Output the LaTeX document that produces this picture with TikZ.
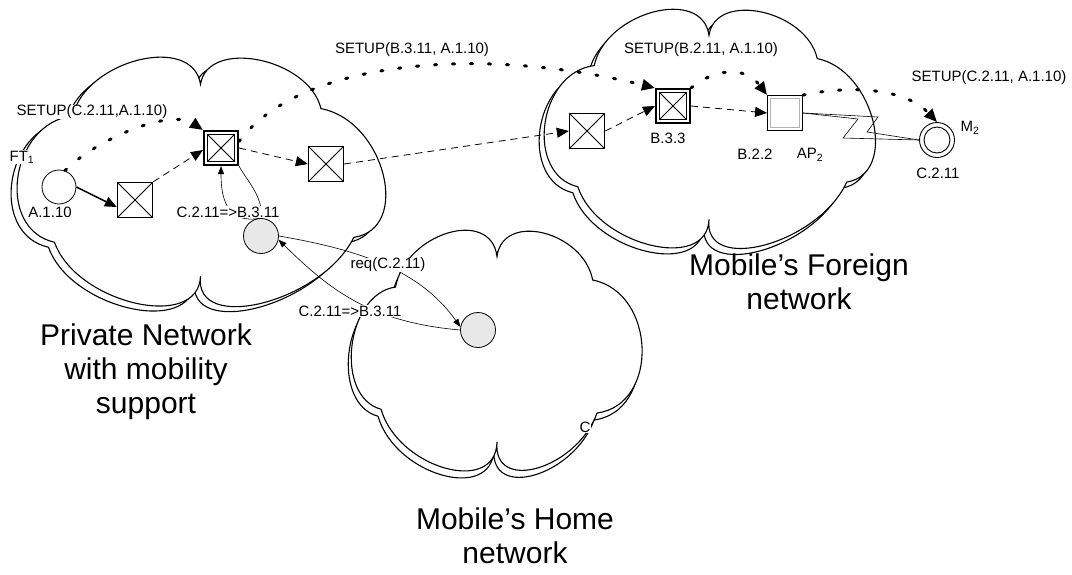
\documentclass[tikz,border=0pt]{standalone}
\usepackage{fontspec}
\setmainfont{Liberation Sans}
\usetikzlibrary{arrows.meta,calc}

% Outline of a network cloud in unit coordinates (u to the right, v downwards)
\newcommand\cloudoutline{(0.15,0.23) .. controls (0.185,0.000) and (0.479,-0.110) .. (0.50,0.10)
  .. controls (0.520,-0.092) and (0.797,-0.008) .. (0.83,0.20)
  .. controls (1.004,0.249) and (1.080,0.694) .. (0.92,0.73)
  .. controls (0.833,0.996) and (0.481,1.130) .. (0.50,0.89)
  .. controls (0.495,1.119) and (0.159,1.001) .. (0.10,0.75)
  .. controls (-0.063,0.695) and (-0.021,0.259) .. (0.15,0.23) -- cycle}
% Same cloud with a narrower lower right lobe
\newcommand\cloudoutlinenarrow{(0.15,0.23) .. controls (0.185,0.000) and (0.479,-0.110) .. (0.50,0.10)
  .. controls (0.520,-0.092) and (0.797,-0.008) .. (0.83,0.20)
  .. controls (1.048,0.254) and (1.061,0.730) .. (0.845,0.766)
  .. controls (0.774,1.005) and (0.485,1.109) .. (0.50,0.89)
  .. controls (0.495,1.119) and (0.159,1.001) .. (0.10,0.75)
  .. controls (-0.063,0.695) and (-0.021,0.259) .. (0.15,0.23) -- cycle}

% #1,#2: top-left corner, #3,#4: width and height, #5,#6: offset of the shadow outline,
% #7: outline
\newcommand\netcloud[7]{%
  \begin{scope}[xshift={(#1+#5)*1pt}, yshift={-(#2+#6)*1pt}, x={(#3pt,0pt)}, y={(0pt,-#4pt)}]
    \path[cloudline] #7;
  \end{scope}
  \begin{scope}[xshift={#1*1pt}, yshift={-#2*1pt}, x={(#3pt,0pt)}, y={(0pt,-#4pt)}]
    \path[cloudline] #7;
  \end{scope}}

\tikzset{
  cloudline/.style={draw, line width=1.1pt, fill=white, line join=miter},
  xbox/.style={draw, line width=1.4pt, fill=white, minimum size=35pt, inner sep=0pt,
    path picture={\draw[line width=0.9pt]
      (path picture bounding box.north west) -- (path picture bounding box.south east)
      (path picture bounding box.north east) -- (path picture bounding box.south west);}},
  dxbox/.style={draw, line width=1.6pt, fill=white, minimum size=34.5pt, inner sep=0pt,
    path picture={\draw[line width=1pt]
      ([shift={(3.5pt,-3.5pt)}]path picture bounding box.north west) rectangle
      ([shift={(-3.5pt,3.5pt)}]path picture bounding box.south east);
      \draw[line width=0.9pt]
      ([shift={(3.5pt,-3.5pt)}]path picture bounding box.north west) --
      ([shift={(-3.5pt,3.5pt)}]path picture bounding box.south east)
      ([shift={(-3.5pt,-3.5pt)}]path picture bounding box.north east) --
      ([shift={(3.5pt,3.5pt)}]path picture bounding box.south west);}},
  apbox/.style={draw, line width=0.9pt, fill=white, minimum size=35pt, inner sep=0pt,
    path picture={\draw[gray!60, line width=1.5pt]
      ([shift={(3pt,-3pt)}]path picture bounding box.north west) rectangle
      ([shift={(-3pt,3pt)}]path picture bounding box.south east);}},
  hostc/.style={circle, draw, line width=0.8pt, fill=white, minimum size=34pt, inner sep=0pt},
  dbc/.style={circle, draw, line width=0.8pt, fill=gray!18, minimum size=35pt, inner sep=0pt},
  mobc/.style={circle, draw, line width=0.9pt, fill=white, minimum size=35pt, inner sep=0pt,
    path picture={\draw[line width=0.9pt] (path picture bounding box.center) circle[radius=13pt];}},
  txt/.style={font=\fontsize{15}{18}\selectfont, inner sep=0.5pt},
  lbl/.style={txt, fill=white},
  big/.style={font=\fontsize{30}{34}\selectfont, align=center, inner sep=0pt},
  solidarr/.style={line width=1.5pt, -{Triangle[length=12pt,width=10pt]}},
  dashes/.style={line width=0.8pt, dash pattern=on 7pt off 5pt, -{Triangle[length=12pt,width=10pt]}},
  dots/.style={line width=3pt, line cap=round, dash pattern=on 2.2pt off 15.8pt,
    -{Triangle[length=13pt,width=11pt]}},
  thinarr/.style={line width=0.6pt, -{Triangle[length=8pt,width=6pt]}},
  tinyarr/.style={line width=0.6pt, -{Triangle[length=4pt,width=3.5pt]}},
  radio/.style={line width=0.6pt, line join=miter}
}

\begin{document}
\begin{tikzpicture}[x=1pt, y=-1pt]
\useasboundingbox (0,0) rectangle (1072,574);

% networks
\netcloud{18}{60}{365}{243}{-6}{5}{\cloudoutline}
\netcloud{352}{233}{290}{235}{-3}{7}{\cloudoutlinenarrow}
\netcloud{545}{12}{328}{233}{-5}{6}{\cloudoutline}

% terminals, switches and databases
\node[hostc] (a110) at (59,187) {};
\node[xbox]  (s1)   at (135,200) {};
\node[dxbox] (dsq)  at (221,148) {};
\node[xbox]  (s3)   at (326,164) {};
\node[dbc]   (gc)   at (261,236) {};
\node[dbc]   (hc)   at (478,330) {};
\node[xbox]  (r1)   at (587,131) {};
\node[dxbox] (b33)  at (673,106) {};
\node[apbox] (ap)   at (785,113) {};
\node[mobc]  (m2)   at (937,140) {};

% user plane path
\draw[solidarr] (a110.east) -- ($(s1.west)+(0,7)$);
\draw[dashes] (s1.north east) -- ($(dsq.west)+(0,2)$);
\draw[dashes] (dsq.east) -- (s3.west);
\draw[dashes] (s3.east) -- (r1.west);
\draw[dashes] (r1.east) -- (b33.west);
\draw[dashes] (b33.east) -- (ap.west);

% SETUP signalling
\draw[dots] (a110.70) .. controls (95,140) and (170,108) .. (dsq.north west);
\draw[dots] (dsq.20) .. controls (300,60) and (480,45) .. (b33.north west);
\draw[dots] (b33.north east) .. controls (715,68) and (745,66) .. (ap.north west);
\draw[dots] (ap.north east) .. controls (850,85) and (905,88) .. (m2.north);

% address translation and location request
\draw[thinarr] (gc.north) .. controls (225,225) and (221,195) .. (dsq.south);
\draw[tinyarr] (dsq.south east) .. controls (245,178) and (262,195) .. (gc.north);
\draw[thinarr] (gc.east) .. controls (360,250) and (420,270) .. (hc.170);
\draw[thinarr] (hc.west) .. controls (370,322) and (330,290) .. (gc.-12);

% radio link
\draw[radio] (ap.east) -- (878,117) -- (867,132) -- (m2.west);
\draw[radio] (ap.east) -- (858,119) -- (843,138) -- (m2.west);

% labels
\node[lbl] (ft1)  at (22,157) {FT\textsubscript{1}};
\node[lbl] (la110) at (50,212) {A.1.10};
\node[lbl] (ls1) at (92,112) {SETUP(C.2.11,A.1.10)};
\node[lbl] (lm1) at (228,212) {C.2.11=>B.3.11};
\node[lbl] (ls2) at (412,50) {SETUP(B.3.11, A.1.10)};
\node[lbl] (ls3) at (701,50) {SETUP(B.2.11, A.1.10)};
\node[lbl] (ls4) at (989,78) {SETUP(C.2.11, A.1.10)};
\node[txt] (lb33) at (668,138) {B.3.3};
\node[txt] (lb22) at (755,154) {B.2.2};
\node[txt] (lap2) at (810,155) {AP\textsubscript{2}};
\node[txt] (lm2)  at (970,128) {M\textsubscript{2}};
\node[txt] (lc211) at (938,173) {C.2.11};
\node[lbl] (lreq) at (388,265) {req(C.2.11)};
\node[lbl] (lm2b) at (350,311) {C.2.11=>B.3.11};
\node[lbl] (lc) at (585,427) {C};

\node[big] (private) at (146,372) {Private Network\\with mobility\\support};
\node[big] (foreign) at (799,282) {Mobile’s Foreign\\network};
\node[big] (home) at (515,536) {Mobile’s Home\\network};
\end{tikzpicture}
\end{document}
